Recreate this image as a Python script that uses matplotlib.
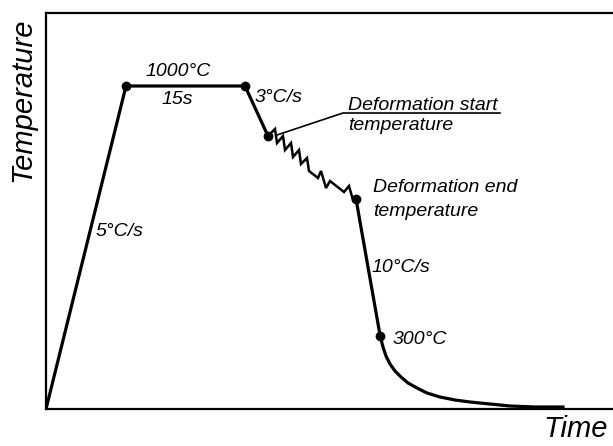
import matplotlib.pyplot as plt

plt.rcParams['font.family'] = ['Liberation Sans', 'DejaVu Sans']

# schematic thermal cycle (arbitrary units: time along x, temperature along y)
ramp_t = [0, 80, 199, 222]
ramp_T = [0, 323, 323, 273]

# deformation: zigzag from start to end temperature
zig_t = [222, 229, 231, 237, 239, 245, 247, 253, 255, 261, 263, 272, 275, 280, 284, 298, 303, 307, 310]
zig_T = [273, 280, 266, 273, 259, 266, 252, 259, 245, 251, 238, 231, 238, 221, 228, 217, 223, 209, 210]

# fast cooling and final slow cooling
cool_t = [310, 334, 337, 340, 344, 349, 355, 362, 371, 381, 394, 409, 424, 444, 464, 489, 517]
cool_T = [210, 74, 62, 53, 45, 38, 32, 26, 21, 16, 12, 9, 7, 5, 3, 2, 2]

dot_t = [80, 199, 222, 310, 334]
dot_T = [323, 323, 273, 210, 73]

fig = plt.figure(figsize=(6.13, 4.46), dpi=100)
ax = fig.add_axes([46/613, 37/446, 1 - 46/613, 396/446])

ax.plot(ramp_t, ramp_T, color='black', lw=2.3, solid_joinstyle='miter')
ax.plot(zig_t, zig_T, color='black', lw=1.8, solid_joinstyle='miter')
ax.plot(cool_t, cool_T, color='black', lw=2.3, solid_joinstyle='round')
ax.plot(dot_t, dot_T, 'o', color='black', ms=6)

# leader line for deformation start
ax.plot([231, 297, 454], [274, 296, 296], color='black', lw=1.2)

fs = 14
kw = dict(fontsize=fs, style='italic')
ax.text(132, 337, '1000°C', ha='center', va='center', **kw)
ax.text(131, 310, '15s', ha='center', va='center', **kw)
ax.text(209, 312, '3°C/s', ha='left', va='center', **kw)
ax.text(302, 299, 'Deformation start', ha='left', va='baseline', **kw)
ax.text(302, 279, 'temperature', ha='left', va='baseline', **kw)
ax.text(327, 221, 'Deformation end', ha='left', va='center', **kw)
ax.text(327, 197, 'temperature', ha='left', va='center', **kw)
ax.text(326, 141, '10°C/s', ha='left', va='center', **kw)
ax.text(347, 70, '300°C', ha='left', va='center', **kw)
ax.text(50, 177, '5°C/s', ha='left', va='center', **kw)

ax.set_xlim(0, 567)
ax.set_ylim(0, 396)
ax.set_xticks([])
ax.set_yticks([])
ax.spines['right'].set_visible(False)
for s in ['left', 'top', 'bottom']:
    ax.spines[s].set_linewidth(1.6)

fig.text(22/613, 1 - 100/446, 'Temperature', rotation=90, ha='center', va='center',
         fontsize=21, style='italic')
fig.text(608/613, 1 - 429/446, 'Time', ha='right', va='center', fontsize=21, style='italic')

fig.savefig('out.png', dpi=100)
